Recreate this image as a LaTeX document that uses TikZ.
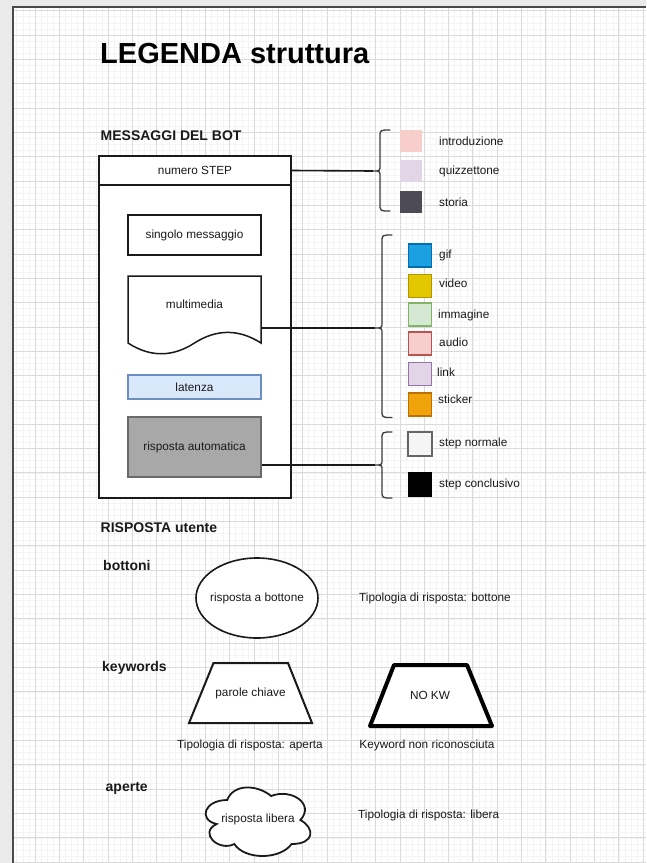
\documentclass[tikz,border=0pt]{standalone}
\usepackage{fontspec}
\setmainfont{Liberation Sans}
\usetikzlibrary{shapes.geometric,calc}

\definecolor{ink}{HTML}{1A1A1A}
\definecolor{gridminor}{HTML}{F4F4F4}
\definecolor{gridmajor}{HTML}{DADADA}
\definecolor{canvasout}{HTML}{EAEAEA}
\definecolor{pageedge}{HTML}{4A4A4A}
\definecolor{latfill}{HTML}{DAE8FC}
\definecolor{latline}{HTML}{6C8EBF}
\definecolor{autofill}{HTML}{A8A8A8}
\definecolor{autoline}{HTML}{6A6A6A}
\definecolor{cintro}{HTML}{F8CECC}
\definecolor{cquiz}{HTML}{E1D5E7}
\definecolor{cstoria}{HTML}{4D4B55}
\definecolor{gifF}{HTML}{1BA1E2}\definecolor{gifL}{HTML}{006EAF}
\definecolor{vidF}{HTML}{E3C800}\definecolor{vidL}{HTML}{B09500}
\definecolor{imgF}{HTML}{D5E8D4}\definecolor{imgL}{HTML}{82B366}
\definecolor{audF}{HTML}{F8CECC}\definecolor{audL}{HTML}{B85450}
\definecolor{lnkF}{HTML}{E1D5E7}\definecolor{lnkL}{HTML}{9673A6}
\definecolor{stkF}{HTML}{F0A30A}\definecolor{stkL}{HTML}{BD7000}
\definecolor{normF}{HTML}{F5F5F5}\definecolor{normL}{HTML}{666666}

% curly brace opening to the right: tip x, tip y, top y, bottom y
\newcommand\curlybrace[4]{%
  \draw[bracestyle]
    ({#1+17},#3) .. controls ({#1+7},#3) and ({#1+7},#3) .. ({#1+7},{#3+7})
    -- ({#1+7},{#2-6}) .. controls ({#1+7},#2) and ({#1+7},#2) .. (#1,#2)
    .. controls ({#1+7},#2) and ({#1+7},#2) .. ({#1+7},{#2+6})
    -- ({#1+7},{#4-7}) .. controls ({#1+7},#4) and ({#1+7},#4) .. ({#1+17},#4);}

\tikzset{
  small/.style={font=\fontsize{11.8}{13}\selectfont, text=ink},
  heading/.style={font=\bfseries\fontsize{14}{16}\selectfont, text=ink, inner sep=0pt},
  frame/.style={draw=ink, line width=1.8pt, fill=white, inner sep=0pt},
  inbox/.style={draw=ink, line width=1.5pt, fill=white, inner sep=0pt,
                minimum width=133pt, small},
  link/.style={draw=ink, line width=1.6pt},
  bracestyle/.style={draw=ink!85, line width=1.3pt, line cap=round},
  swatch/.style={minimum size=23pt, inner sep=0pt, line width=1.4pt},
  lbl/.style={small, anchor=west, inner sep=0pt},
}

\begin{document}
\begin{tikzpicture}[x=1pt, y=-1pt]
\useasboundingbox (0,0) rectangle (646,863);
\fill[white] (0,0) rectangle (646,863);

% drawing grid of the page
\begin{scope}
  \clip (13,7) rectangle (646,863);
  \foreach \k in {-4,...,106} \draw[gridminor, line width=0.6pt] ({35+\k*6.0825},0) -- ({35+\k*6.0825},863);
  \foreach \k in {-6,...,138} \draw[gridminor, line width=0.6pt] (0,{35+\k*6.0825}) -- (646,{35+\k*6.0825});
  \foreach \k in {-1,...,26} \draw[gridmajor, line width=0.9pt] ({35+\k*24.33},0) -- ({35+\k*24.33},863);
  \foreach \k in {-1,...,35} \draw[gridmajor, line width=0.9pt] (0,{35+\k*24.33}) -- (646,{35+\k*24.33});
\end{scope}

% canvas outside the page and page edge
\fill[canvasout] (0,0) rectangle (646,6);
\fill[canvasout] (0,0) rectangle (12,863);
\draw[pageedge, line width=2pt] (13,863) -- (13,7) -- (646,7);

% title and headings
\node[anchor=base west, inner sep=0pt, text=black,
      font=\bfseries\fontsize{29}{31}\selectfont] (title) at (100,63) {LEGENDA struttura};
\node[heading, anchor=base west] (hbot) at (100.5,140) {MESSAGGI DEL BOT};
\node[heading, anchor=base west] (hrisp) at (100.5,532.5) {RISPOSTA utente};
\node[heading, anchor=base west] (hbtn) at (103,570) {bottoni};
\node[heading, anchor=base west] (hkw) at (102,671.5) {keywords};
\node[heading, anchor=base west] (hap) at (105.5,791) {aperte};

% bot message container
\node[frame, minimum width=192pt, minimum height=342pt] (bot) at (195,327) {};
\node[frame, minimum width=192pt, minimum height=29pt, small] (step) at (195,170.5) {numero STEP};
\node[inbox, minimum height=40pt] (single) at (194.5,235) {singolo messaggio};

% multimedia document shape
\draw[ink, line width=1.5pt, fill=white]
  (128,276) -- (261,276) -- (261,343)
  .. controls (238.83,328.87) and (216.67,328.87) .. (194.5,343)
  .. controls (172.33,357.33) and (150.17,357.33) .. (128,343) -- cycle;
\node[minimum width=133pt, minimum height=79pt, inner sep=0pt] (mm) at (194.5,315.5) {};
\node[small] (mmtext) at (194.5,304) {multimedia};

\node[inbox, draw=latline, fill=latfill, minimum height=24pt] (lat) at (194.5,387) {latenza};
\node[inbox, draw=autoline, fill=autofill, minimum height=60pt] (ra) at (194.5,447) {risposta automatica};

% braces and connectors
\coordinate (b1) at (373,171);
\coordinate (b2) at (375,328);
\coordinate (b3) at (375,465);
\curlybrace{373}{171}{130}{211}
\curlybrace{375}{328}{235}{417.5}
\curlybrace{375}{465}{432}{498}
\draw[link] (step.east) -- (b1);
\draw[link] (b2 -| mm.east) -- (b2);
\draw[link] (b3 -| ra.east) -- (b3);

% step type legend
\node[swatch, minimum size=22pt, fill=cintro] (sw1) at (411,141) {};
\node[swatch, minimum size=22pt, fill=cquiz] (sw2) at (411,171) {};
\node[swatch, minimum size=22pt, fill=cstoria] (sw3) at (411,202) {};
\node[lbl] (l1) at (439,141) {introduzione};
\node[lbl] (l2) at (439,171) {quizzettone};
\node[lbl] (l3) at (439,202) {storia};

% media type legend
\node[swatch, draw=gifL, fill=gifF] (m1) at (420,255.5) {};
\node[swatch, draw=vidL, fill=vidF] (m2) at (420,286) {};
\node[swatch, draw=imgL, fill=imgF] (m3) at (420,314.5) {};
\node[swatch, draw=audL, fill=audF] (m4) at (420,343.5) {};
\node[swatch, draw=lnkL, fill=lnkF] (m5) at (420,374) {};
\node[swatch, draw=stkL, fill=stkF] (m6) at (420,404.5) {};
\node[lbl] (t1) at (439,255) {gif};
\node[lbl] (t2) at (439,283) {video};
\node[lbl] (t3) at (438,315) {immagine};
\node[lbl] (t4) at (439,342) {audio};
\node[lbl] (t5) at (437,372) {link};
\node[lbl] (t6) at (438,399) {sticker};

% final step legend
\node[swatch, minimum size=24pt, draw=normL, fill=normF, line width=2pt] (s1) at (420,443.5) {};
\node[swatch, draw=black, fill=black] (s2) at (420,484.5) {};
\node[lbl] (u1) at (439,443) {step normale};
\node[lbl] (u2) at (439,484) {step conclusivo};

% user answers: buttons
\node[draw=ink, line width=1.6pt, fill=white, ellipse, minimum width=122pt,
      minimum height=80pt, inner sep=0pt] (btn) at (257,598) {};
\node[small] (btntext) at (btn.center) {risposta a bottone};
\node[lbl] (btntype) at (359,598) {Tipologia di risposta: bottone};

% user answers: keywords
\draw[ink, line width=2pt, fill=white] (189,723) -- (213.5,663) -- (288,663) -- (312,723) -- cycle;
\node[small] (kw) at (250.5,693) {parole chiave};
\draw[black, line width=4pt, line join=round, fill=white] (370,726) -- (394,665) -- (467,665) -- (492,726) -- cycle;
\node[small] (nokw) at (430,695) {NO KW};
\node[small] (kwtype) at (250,745) {Tipologia di risposta: aperta};
\node[small] (nokwtype) at (427,745) {Keyword non riconosciuta};

% user answers: free text cloud
\begin{scope}[shift={(198,780)}, x=117pt, y=-80pt]
  \draw[ink, line width=1.8pt, fill=white]
    (0.25,0.25) .. controls (0.05,0.25) and (0,0.5) .. (0.16,0.55)
    .. controls (0,0.66) and (0.18,0.9) .. (0.31,0.8)
    .. controls (0.4,1) and (0.7,1) .. (0.8,0.8)
    .. controls (1,0.8) and (1,0.6) .. (0.875,0.5)
    .. controls (1,0.3) and (0.8,0.1) .. (0.625,0.2)
    .. controls (0.5,0.05) and (0.3,0.05) .. (0.25,0.25) -- cycle;
\end{scope}
\node[small] (free) at (258,819) {risposta libera};
\node[lbl] (freetype) at (358,815) {Tipologia di risposta: libera};
\end{tikzpicture}
\end{document}
